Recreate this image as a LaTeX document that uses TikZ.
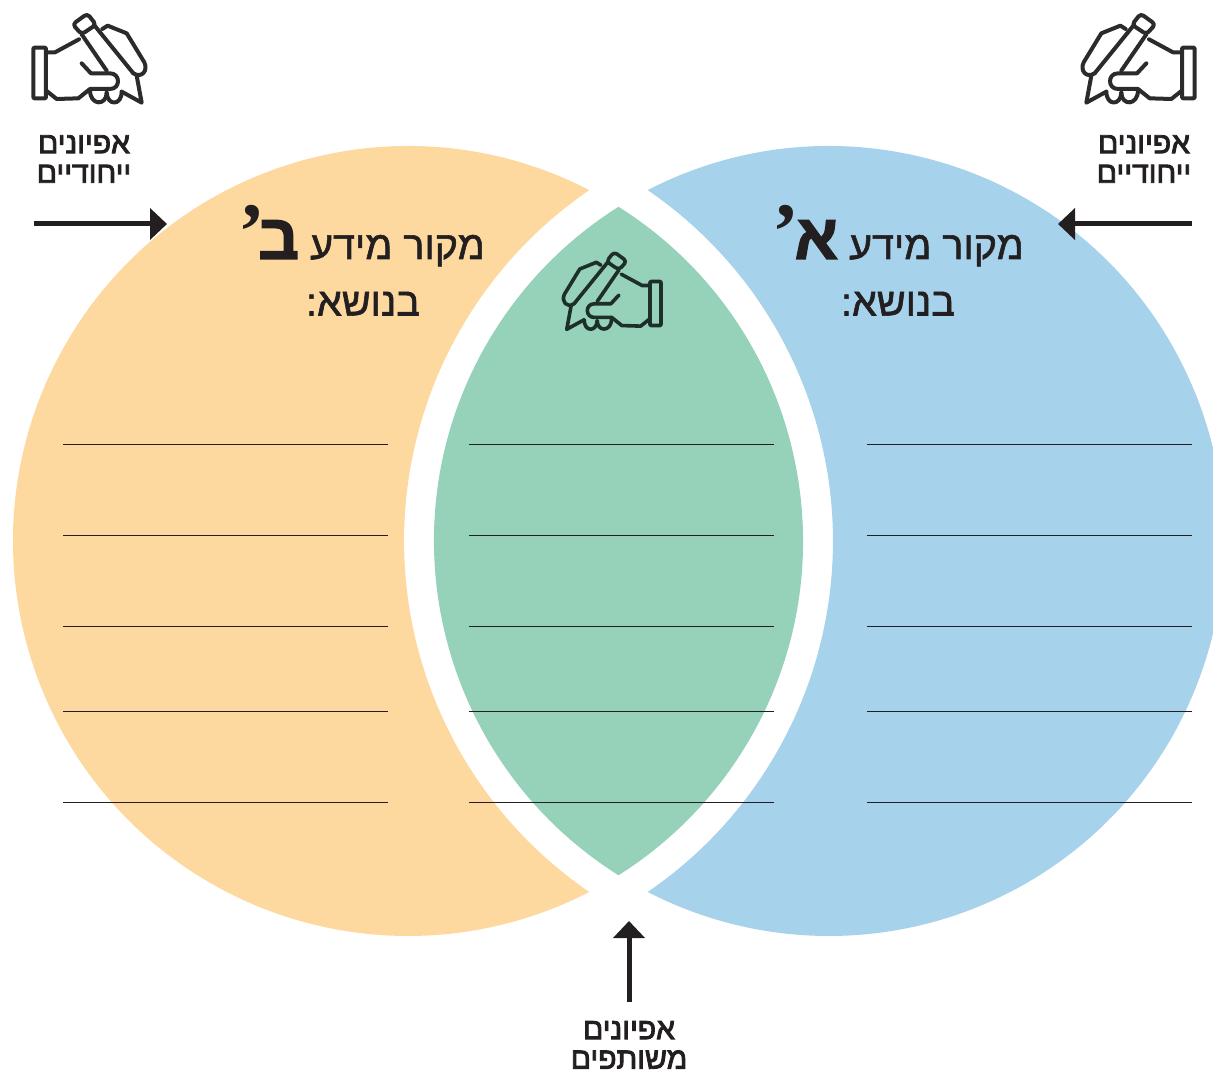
\documentclass[tikz,border=0pt]{standalone}
\usepackage{fontspec}
\setmainfont[Script=Hebrew]{Liberation Sans}
\newfontfamily\heavyfont[Script=Hebrew]{Liberation Serif}
\TeXXeTstate=1
\usetikzlibrary{arrows.meta}
\definecolor{orangeC}{HTML}{FDD9A0}
\definecolor{blueC}{HTML}{A6D2EB}
\definecolor{greenC}{HTML}{96D1BA}
\definecolor{inkC}{HTML}{231F20}
\definecolor{iconC}{HTML}{2B2B2B}
\definecolor{iconG}{HTML}{1E2F29}
\tikzset{
  rule/.style={draw=inkC,line width=1pt},
  pointer/.style={draw=inkC,line width=5pt,-{Triangle[length=17pt,width=31pt]}},
  tag/.style={font=\fontsize{30}{29.5}\selectfont\addfontfeature{FakeBold=3},text=inkC,align=center,inner sep=0pt},
  title/.style={font=\fontsize{39.5}{40}\selectfont\addfontfeature{FakeBold=1.5},text=inkC,inner sep=0pt},
}
\newcommand{\bigletter}[2]{{\fontsize{64}{64}\selectfont\bfseries\addfontfeature{FakeBold=2}#1}\kern#2{\heavyfont\fontsize{80}{80}\selectfont\bfseries ’}}
% hand icon drawn in the units of the left icon (3 units = 1 px)
\newcommand{\handicon}[6]{% x, y, xscale, yscale, colour, width
\begin{scope}[shift={(#1,#2)},xscale=#3/3,yscale=-#4/3,draw=#5,line width=#6,line join=round,line cap=round]
 \draw[rounded corners=1pt] (100,143) rectangle (138,295);
 \draw (143,157) -- (165,157) -- (237,118);
 \draw[rounded corners=3.5pt] (245,103) -- (218,73) -- (262,41) -- (288,74) -- cycle;
 \draw (245,103) -- (320,212);
 \draw (284,77) -- (400,220);
 \draw (307,87) -- (323,77) -- (380,100) -- (433,187) .. controls (445,212) and (425,236) .. (400,220);
 \draw (410,227) -- (425,308) -- (365,275);
 \draw (245,190) -- (273,220) -- (330,220) .. controls (362,220) and (362,267) .. (330,267) -- (270,267) -- (235,295) -- (170,297) -- (140,273);
 \draw (270,270) .. controls (270,318) and (320,318) .. (320,278);
 \draw (320,278) .. controls (322,318) and (365,318) .. (365,275);
\end{scope}}
\begin{document}
\begin{tikzpicture}[x=1pt,y=1pt]
\useasboundingbox (0,0) rectangle (1213,1072);
\begin{scope}
\clip (0,0) rectangle (1213,1072);
% left crescent
\fill[orangeC] (589.3,881.9) arc[start angle=62.68,end angle=297.32,radius=395] arc[start angle=235.66,end angle=124.34,radius=425] -- cycle;
% right crescent
\fill[blueC] (647.7,881.9) arc[start angle=117.32,end angle=-117.32,radius=395] arc[start angle=-55.66,end angle=55.66,radius=425] -- cycle;
% lens
\fill[greenC] (618.5,865.2) arc[start angle=57.8,end angle=-57.8,radius=395] arc[start angle=237.8,end angle=122.2,radius=395] -- cycle;
\end{scope}
% writing rules
\foreach \yy in {444.5,535.5,626.5,711.5,802}{
  \path[rule] (63,1072-\yy) -- (388,1072-\yy);
  \path[rule] (469,1072-\yy) -- (774,1072-\yy);
  \path[rule] (867,1072-\yy) -- (1192,1072-\yy);
}
% icons
\handicon{0}{1072}{1}{1}{iconC}{4pt}
\handicon{1228}{1072}{-1}{1}{iconC}{4pt}
\handicon{690}{832}{-0.87}{0.87}{iconG}{3.6pt}
% titles
\node[title,anchor=base east] (tb) at (485,813) {\beginR מקור מידע \bigletter{ב}{-7pt}\endR};
\node[title,anchor=base] (sb) at (363,756.5) {\beginR בנושא:\endR};
\node[title,anchor=base east] (ta) at (1024,813) {\beginR מקור מידע \bigletter{א}{-5pt}\endR};
\node[title,anchor=base] (sa) at (898,756.5) {\beginR בנושא:\endR};
% tags
\node[tag] (lb) at (84,913) {\beginR אפיונים\endR\\\beginR ייחודיים\endR};
\node[tag] (la) at (1144,913) {\beginR אפיונים\endR\\\beginR ייחודיים\endR};
\node[tag] (lc) at (629,27) {\beginR אפיונים\endR\\\beginR משותפים\endR};
% arrows
\coordinate (lt) at (34,848);
\coordinate (lh) at (167,848);
\coordinate (rt) at (1192,848);
\coordinate (rh) at (1058,848);
\coordinate (bt) at (629,70);
\coordinate (bh) at (629,151);
\draw[pointer] (lt) -- (lh);
\draw[pointer] (rt) -- (rh);
\draw[pointer] (bt) -- (bh);
\end{tikzpicture}
\end{document}
